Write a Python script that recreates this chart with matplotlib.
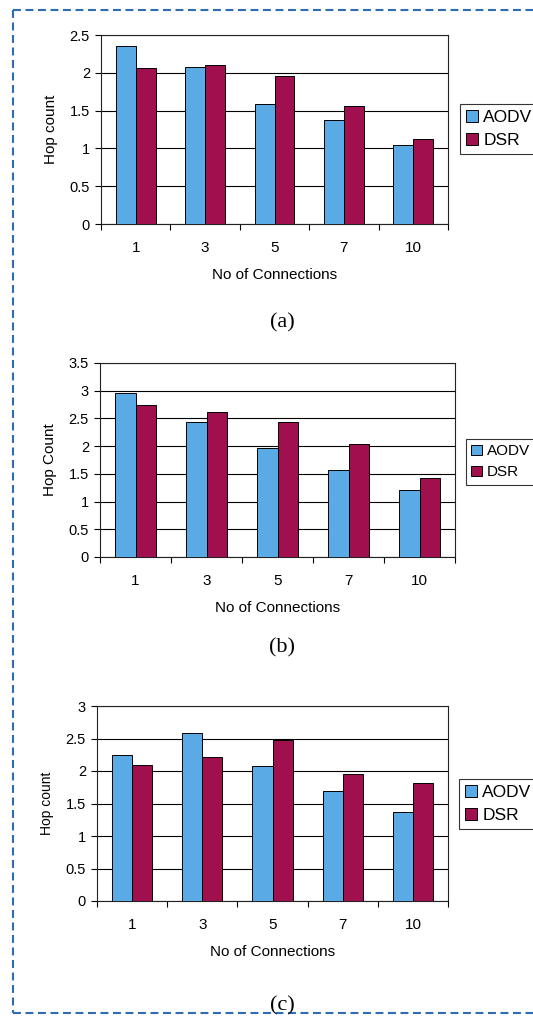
import numpy as np
import matplotlib
matplotlib.use("Agg")
import matplotlib.pyplot as plt
from matplotlib.lines import Line2D

W, H = 533, 1017

connections = ["1", "3", "5", "7", "10"]
series = ["AODV", "DSR"]

aodv_a = [2.36, 2.08, 1.59, 1.37, 1.04]
dsr_a = [2.06, 2.10, 1.96, 1.56, 1.12]

aodv_b = [2.96, 2.43, 1.97, 1.57, 1.21]
dsr_b = [2.74, 2.62, 2.43, 2.04, 1.43]

aodv_c = [2.24, 2.59, 2.07, 1.70, 1.37]
dsr_c = [2.10, 2.22, 2.48, 1.95, 1.81]

AODV_COLOR = "#5AAAE6"
DSR_COLOR = "#A0104E"
BORDER = "#2E6DB4"

plt.rcParams["font.family"] = ["Liberation Sans", "DejaVu Sans"]


def px_box(left, right, top, bottom):
    return [left / W, 1 - bottom / H, (right - left) / W, (bottom - top) / H]


def panel(fig, box, aodv, dsr, ymax, ylabel, ylabel_size, leg_xy, leg_size, caption, cap_y):
    ax = fig.add_axes(px_box(*box))
    x = np.arange(len(connections))
    w = 0.286
    ax.bar(x - w / 2, aodv, w, color=AODV_COLOR, edgecolor="black", linewidth=0.7,
           label=series[0], zorder=3)
    ax.bar(x + w / 2, dsr, w, color=DSR_COLOR, edgecolor="black", linewidth=0.7,
           label=series[1], zorder=3)
    ax.set_xlim(-0.5, len(connections) - 0.5)
    ax.set_ylim(0, ymax)
    yt = np.arange(0, ymax + 0.01, 0.5)
    ax.set_yticks(yt)
    ax.set_yticklabels([f"{v:g}" for v in yt], fontsize=10.5)
    ax.yaxis.grid(True, color="black", linewidth=0.8, zorder=0)
    ax.set_axisbelow(True)

    # tick marks on category boundaries, labels in the middle
    ax.set_xticks(np.arange(-0.5, len(connections), 1.0))
    ax.set_xticklabels([])
    ax.set_xticks(x, minor=True)
    ax.set_xticklabels(connections, minor=True, fontsize=11)
    ax.tick_params(axis="x", which="major", length=4, width=0.8, direction="out")
    ax.tick_params(axis="x", which="minor", length=0, pad=12)
    ax.tick_params(axis="y", length=4, width=0.8, direction="out", pad=4)
    for s in ax.spines.values():
        s.set_linewidth(0.8)
        s.set_color("#222222")

    ax.set_xlabel("No of Connections", fontsize=11)
    ax.xaxis.set_label_coords(0.5, -44 / (box[3] - box[2]))
    ax.set_ylabel(ylabel, fontsize=ylabel_size, labelpad=8)

    ax.legend(loc="upper left", bbox_to_anchor=(leg_xy[0] / W, 1 - leg_xy[1] / H),
              bbox_transform=fig.transFigure, frameon=True, fancybox=False,
              edgecolor="black", fontsize=leg_size, handlelength=0.7,
              handleheight=0.7, handletextpad=0.3, labelspacing=0.45,
              borderpad=0.35, borderaxespad=0)
    ax.get_legend().get_frame().set_linewidth(0.8)

    fig.text(282 / W, 1 - cap_y / H, caption, ha="center", va="center",
             fontsize=16, family="Liberation Serif")
    return ax


fig = plt.figure(figsize=(W / 100, H / 100), dpi=100)
fig.patch.set_facecolor("white")

panel(fig, (101, 448, 35, 224), aodv_a, dsr_a, 2.5, "Hop count", 11,
      (460, 104), 12.5, "(a)", 323)
panel(fig, (100, 455, 363, 557), aodv_b, dsr_b, 3.5, "Hop Count", 11,
      (466, 439), 11, "(b)", 648)
panel(fig, (97, 448, 706, 901), aodv_c, dsr_c, 3.0, "Hop count", 10,
      (459, 779), 12.5, "(c)", 1006)

# dashed frame around the whole figure (right side runs off the page)
lx, ty, by = 13 / W, 1 - 9.5 / H, 1 - 1013 / H
dash = dict(color=BORDER, linewidth=1.5, linestyle=(0, (3.8, 2.2)))
fig.add_artist(Line2D([lx, 1.02], [ty, ty], transform=fig.transFigure, **dash))
fig.add_artist(Line2D([lx, lx], [ty, by], transform=fig.transFigure, **dash))
fig.add_artist(Line2D([lx, 1.02], [by, by], transform=fig.transFigure, **dash))

fig.savefig("out.png", dpi=100)
